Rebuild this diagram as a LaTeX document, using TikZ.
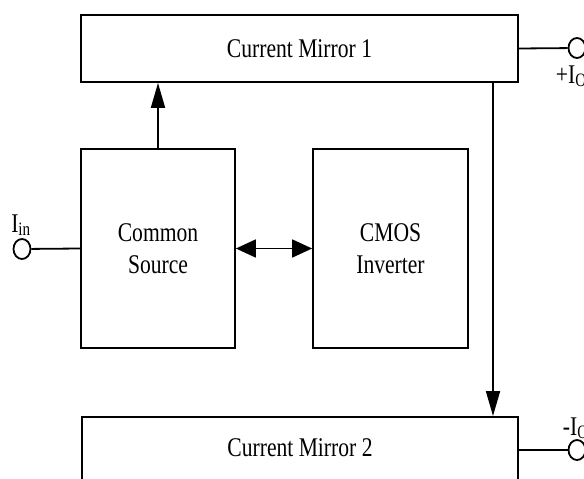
\documentclass[tikz,border=0pt]{standalone}
\usepackage{fontspec}
\setmainfont{Liberation Serif}
\newfontfamily\narrowfont[FakeStretch=0.8]{Liberation Serif}
\usetikzlibrary{arrows.meta,shapes.geometric}
\begin{document}
\begin{tikzpicture}[x=1pt,y=-1pt,line width=1.8pt,
    blk/.style={draw,inner sep=0pt,align=center,font=\narrowfont\fontsize{27}{32}\selectfont},
    term/.style={draw,ellipse,inner sep=0pt,minimum width=17pt,minimum height=20pt},
    lbl/.style={inner sep=0pt,font=\narrowfont\fontsize{27}{32}\selectfont},
    varr/.style={-{Triangle[length=25pt,width=14pt]}},
    harr/.style={{Triangle[length=20pt,width=18pt]}-{Triangle[length=20pt,width=18pt]}}]
    \clip (0,0) rectangle (584,479);
    \node[blk,minimum width=437pt,minimum height=67pt] (cm1) at (299.5,48.5) {Current Mirror 1};
    \node[blk,minimum width=154pt,minimum height=199pt] (cs) at (158,248.5) {Common\\Source};
    \node[blk,minimum width=155pt,minimum height=199pt] (inv) at (390.5,248.5) {CMOS\\Inverter};
    \node[blk,minimum width=436pt,text height=40pt,text depth=44pt,anchor=north] (cm2) at (300,416) {Current Mirror 2};
    \node[term] (iin) at (22,249) {};
    \node[term] (iop) at (577,48) {};
    \node[term] (ion) at (577,450) {};
    \node[lbl,anchor=base] (lin) at (21,232) {I\textsubscript{in}};
    \node[lbl,anchor=base west] (lop) at (555,83) {+I\textsubscript{O}};
    \node[lbl,anchor=base west] (lon) at (562,435) {-I\textsubscript{O}};
    \coordinate (tap) at (493,0);
    \draw[varr] (cs.north) -- (cm1.south -| cs.north);
    \draw[harr] (cs.east) -- (inv.west);
    \draw[varr] (cm1.south -| tap) -- (cm2.north -| tap);
    \draw (iin) -- (cs.west);
    \draw (cm1.east) -- (iop);
    \draw (ion -| cm2.east) -- (ion);
\end{tikzpicture}
\end{document}
